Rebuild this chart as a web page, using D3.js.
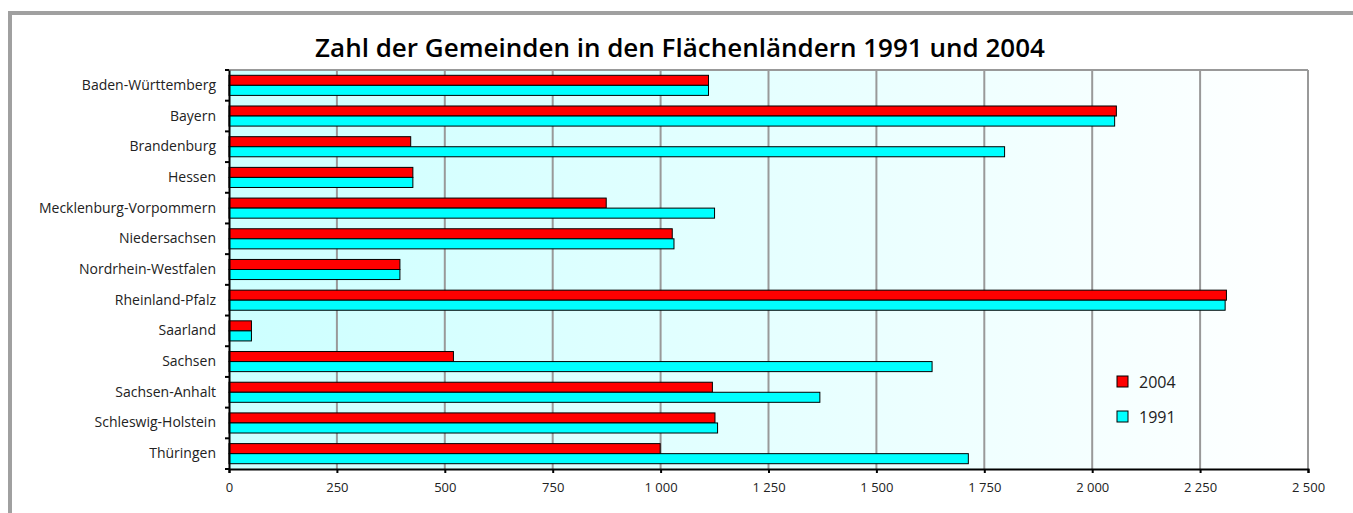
<!DOCTYPE html>
<html>
<head>
<meta charset="utf-8">
<script src="https://cdn.jsdelivr.net/npm/d3@7"></script>
<style>
  body { margin: 0; background: #fff; }
  svg text { font-family: "Open Sans", sans-serif; fill: #222; }
</style>
</head>
<body>
<div id="chart"></div>
<script>
// data
var laender = ["Baden-Württemberg", "Bayern", "Brandenburg", "Hessen", "Mecklenburg-Vorpommern",
  "Niedersachsen", "Nordrhein-Westfalen", "Rheinland-Pfalz", "Saarland", "Sachsen",
  "Sachsen-Anhalt", "Schleswig-Holstein", "Thüringen"];
var gem2004 = [1111, 2056, 421, 426, 874, 1027, 396, 2311, 52, 520, 1120, 1126, 999];
var gem1991 = [1111, 2052, 1797, 426, 1125, 1031, 396, 2308, 52, 1629, 1369, 1132, 1713];
var serien = ["2004", "1991"];
var farben = ["#ff0000", "#00ffff"];
var xTicks = [0, 250, 500, 750, 1000, 1250, 1500, 1750, 2000, 2250, 2500];

var width = 1353, height = 513;
var margin = { top: 70, right: 45, bottom: 44, left: 229 };
var w = width - margin.left - margin.right,
    h = height - margin.top - margin.bottom;

var svg = d3.select("#chart").append("svg")
    .attr("width", width)
    .attr("height", height);

// outer frame (left + top only)
svg.append("line").attr("x1", 10).attr("x2", 10).attr("y1", 11).attr("y2", height)
  .attr("stroke", "#a0a0a0").attr("stroke-width", 4);
svg.append("line").attr("x1", 8).attr("x2", width).attr("y1", 13).attr("y2", 13)
  .attr("stroke", "#a0a0a0").attr("stroke-width", 4);

svg.append("text")
  .attr("x", 680).attr("y", 57)
  .attr("text-anchor", "middle")
  .style("font-size", "26px")
  .style("font-weight", "600")
  .style("fill", "#000")
  .text("Zahl der Gemeinden in den Flächenländern 1991 und 2004");

var defs = svg.append("defs");
var grad = defs.append("linearGradient").attr("id", "bg").attr("x1", "0%").attr("x2", "100%");
grad.append("stop").attr("offset", "0%").attr("stop-color", "#ccffff");
grad.append("stop").attr("offset", "100%").attr("stop-color", "#ffffff");

var g = svg.append("g").attr("transform", "translate(" + margin.left + "," + margin.top + ")");

var x = d3.scaleLinear().domain([0, 2500]).range([0, w]);
var y = d3.scaleBand().domain(laender).range([0, h]).padding(0);
var ySub = d3.scaleBand().domain(serien).range([5.3, y.bandwidth() - 5.3]).padding(0);

g.append("rect").attr("width", w).attr("height", h).attr("fill", "url(#bg)");

// gridlines
g.selectAll(".grid").data(xTicks.slice(1))
  .enter().append("line")
  .attr("class", "grid")
  .attr("x1", function(d) { return x(d); })
  .attr("x2", function(d) { return x(d); })
  .attr("y1", 0).attr("y2", h)
  .attr("stroke", "#999").attr("stroke-width", 2);
g.append("line").attr("x1", 0).attr("x2", w).attr("y1", 0).attr("y2", 0)
  .attr("stroke", "#999").attr("stroke-width", 2);

var daten = laender.map(function(l, i) {
  return { land: l, werte: [gem2004[i], gem1991[i]] };
});

var gruppe = g.selectAll(".land").data(daten)
  .enter().append("g")
  .attr("class", "land")
  .attr("transform", function(d) { return "translate(0," + y(d.land) + ")"; });

gruppe.selectAll("rect").data(function(d) { return d.werte; })
  .enter().append("rect")
  .attr("x", 0)
  .attr("y", function(d, i) { return ySub(serien[i]); })
  .attr("width", function(d) { return x(d); })
  .attr("height", ySub.bandwidth())
  .attr("fill", function(d, i) { return farben[i]; })
  .attr("stroke", "#000")
  .attr("stroke-width", 1);

// axes
var fmt = d3.formatLocale({ decimal: ",", thousands: " ", grouping: [3], currency: ["", " €"] }).format(",d");

var xAxis = g.append("g")
  .attr("transform", "translate(0," + h + ")")
  .call(d3.axisBottom(x).tickValues(xTicks).tickFormat(fmt).tickSize(4).tickPadding(10));
xAxis.select(".domain").attr("stroke", "#000").attr("stroke-width", 2);
xAxis.selectAll(".tick line").attr("stroke", "#000").attr("stroke-width", 2);
xAxis.selectAll("text").style("font-size", "13px").style("font-family", "Open Sans, sans-serif").attr("fill", "#333");

var yAxis = g.append("g")
  .call(d3.axisLeft(y).tickSize(0).tickPadding(13));
yAxis.select(".domain").attr("stroke", "#000").attr("stroke-width", 2);
yAxis.selectAll("text").style("font-size", "14px").style("font-family", "Open Sans, sans-serif").attr("fill", "#333");

// category separator ticks
g.selectAll(".ytick").data(d3.range(laender.length + 1))
  .enter().append("line")
  .attr("class", "ytick")
  .attr("x1", -4).attr("x2", 0)
  .attr("y1", function(d) { return d * y.step(); })
  .attr("y2", function(d) { return d * y.step(); })
  .attr("stroke", "#000").attr("stroke-width", 2);

// legend
var legend = svg.append("g").attr("transform", "translate(1117,376)");
var li = legend.selectAll(".li").data(serien)
  .enter().append("g")
  .attr("class", "li")
  .attr("transform", function(d, i) { return "translate(0," + (i * 35) + ")"; });
li.append("rect").attr("width", 11).attr("height", 11)
  .attr("fill", function(d, i) { return farben[i]; })
  .attr("stroke", "#000").attr("stroke-width", 1);
li.append("text").attr("x", 22).attr("y", 6).attr("dy", "0.35em")
  .style("font-size", "16px")
  .text(function(d) { return d; });
</script>
</body>
</html>
